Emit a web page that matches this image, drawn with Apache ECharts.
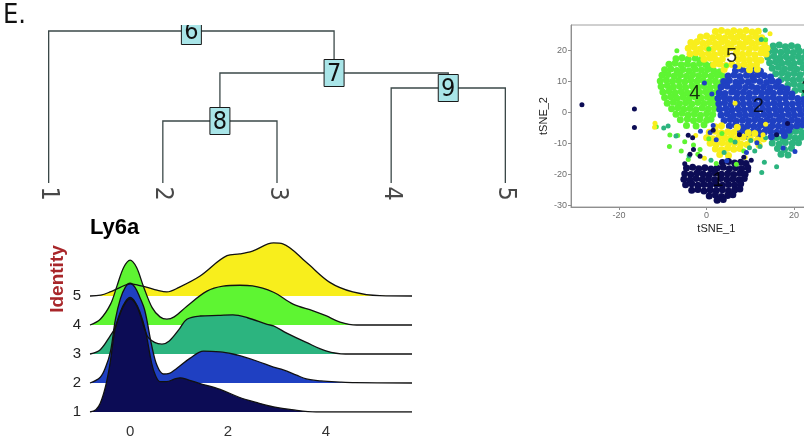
<!DOCTYPE html>
<html><head><meta charset="utf-8">
<script src="https://cdn.jsdelivr.net/npm/echarts@6/dist/echarts.min.js"></script>
<style>html,body{margin:0;padding:0;background:#fff}#c{width:804px;height:443px}</style>
</head><body><div id="c"></div>
<script>
const FONT = '"Liberation Sans", Arial, sans-serif';
const NARROW = '"Liberation Sans Narrow", "DejaVu Sans Condensed", "Liberation Sans", sans-serif';

// ---------- Dendrogram ----------
const leafNames = ['1', '2', '3', '4', '5'];
const leafPos = [1, 2, 3, 4, 5];
const nodeNames = ['6', '7', '8', '9'];
const nodeHeights = [1.52, 1.10, 0.62, 0.95];
const nodeChildren = [['1', '7'], ['8', '9'], ['2', '3'], ['4', '5']];

// ---------- tSNE ----------
const tsneTicksX = [-20, 0, 20];
const tsneTicksY = [-30, -20, -10, 0, 10, 20];
const tsneColors = ['#0c0c55', '#1f40c2', '#2cb47f', '#5ef532', '#f8ee1c'];
const tsne1 = [[3.6,-16.2],[5.0,-15.9],[6.4,-16.4],[7.8,-16.1],[9.0,-16.5],
[-4.6,-18.0],[-3.2,-17.7],[-1.8,-18.2],[-0.4,-17.9],[1.0,-18.3],[2.4,-18.0],[3.8,-17.7],[5.2,-18.2],[6.6,-17.9],[8.0,-18.2],[9.4,-17.8],
[-5.0,-19.8],[-3.6,-20.1],[-2.2,-19.6],[-0.8,-19.9],[0.6,-20.2],[2.0,-19.7],[3.4,-20.0],[4.8,-19.8],[6.2,-20.1],[7.6,-19.7],[8.8,-20.0],
[-5.2,-21.6],[-3.8,-21.9],[-2.4,-21.4],[-1.0,-21.7],[0.4,-21.5],[1.8,-21.8],[3.2,-21.4],[4.6,-21.7],[6.0,-21.5],[7.4,-21.8],[8.6,-21.4],
[-4.8,-23.4],[-3.4,-23.1],[-2.0,-23.6],[-0.6,-23.3],[0.8,-23.5],[2.2,-23.2],[3.6,-23.6],[5.0,-23.3],[6.4,-23.5],[7.8,-23.1],
[-3.4,-25.2],[-2.0,-24.9],[-0.6,-25.4],[0.8,-25.1],[2.2,-25.3],[3.6,-25.0],[5.0,-25.4],[6.4,-25.1],[7.6,-24.8],
[0.6,-27.0],[2.0,-26.7],[3.4,-27.2],[4.8,-26.9],[6.0,-26.6],[2.4,-28.4],[3.8,-28.2]];
const tsne1Sparse = [[-28.5,2.5],[-16.5,1.1],[-16.5,-4.9],[-4.2,-7.4],[-3.2,-8.2],[-3.8,-13.5],[-1.5,-14.2],[8.5,-14.5],[10.2,-15.5],[1.5,-5.8],[-3.0,-12.0],[7.5,-7.2],[16.0,-7.2],[18.5,-3.6],[-5.0,-16.6],[9.6,-18.8]];
const tsne2 = [[6.6,13.6],[8.1,13.9],[9.4,13.4],[10.9,13.7],[12.3,13.3],
[4.9,11.8],[6.3,12.1],[7.6,11.6],[9.1,12.0],[10.5,11.7],[11.8,12.2],[13.2,11.9],[14.6,11.5],
[3.9,10.0],[5.2,10.3],[6.7,9.8],[8.0,10.1],[9.5,9.9],[10.8,10.4],[12.2,10.0],[13.7,9.7],[15.0,10.2],[16.4,9.9],
[3.3,8.2],[4.7,8.5],[6.1,8.0],[7.4,8.3],[8.9,8.1],[10.3,8.4],[11.6,7.9],[13.0,8.2],[14.5,8.0],[15.9,8.4],[17.2,8.1],[18.4,7.6],
[2.9,6.4],[4.2,6.1],[5.7,6.6],[7.0,6.3],[8.4,6.5],[9.8,6.2],[11.2,6.6],[12.6,6.3],[14.0,6.5],[15.3,6.2],[16.8,6.6],[18.1,6.3],[19.5,6.0],
[2.6,4.6],[4.0,4.9],[5.3,4.4],[6.8,4.7],[8.2,4.5],[9.6,4.8],[11.0,4.4],[12.4,4.7],[13.8,4.5],[15.2,4.8],[16.6,4.4],[18.0,4.6],[19.4,4.9],[20.8,4.5],[22.2,4.2],[23.5,4.6],
[2.8,2.8],[4.1,3.1],[5.6,2.6],[7.0,2.9],[8.4,2.7],[9.8,3.0],[11.2,2.6],[12.6,2.9],[14.0,2.7],[15.4,3.0],[16.8,2.6],[18.2,2.9],[19.6,2.7],[21.0,3.0],[22.4,2.6],[23.8,2.9],
[3.0,1.0],[4.4,1.3],[5.8,0.8],[7.2,1.1],[8.6,0.9],[10.0,1.2],[11.4,0.8],[12.8,1.1],[14.2,0.9],[15.6,1.2],[17.0,0.8],[18.4,1.1],[19.8,0.9],[21.2,1.2],[22.6,0.8],[24.0,1.1],
[3.3,-0.8],[4.7,-0.5],[6.1,-1.0],[7.5,-0.7],[8.9,-0.9],[10.3,-0.6],[11.7,-1.0],[13.1,-0.7],[14.5,-0.9],[15.9,-0.6],[17.3,-1.0],[18.7,-0.7],[20.1,-0.9],[21.5,-0.6],[22.9,-1.0],[24.2,-0.7],
[4.0,-2.6],[5.4,-2.3],[6.8,-2.8],[8.2,-2.5],[9.6,-2.7],[11.0,-2.4],[12.4,-2.8],[13.8,-2.5],[15.2,-2.7],[16.6,-2.4],[18.0,-2.8],[19.4,-2.5],[20.8,-2.7],[22.2,-2.4],[23.6,-2.8],
[5.2,-4.4],[6.6,-4.1],[8.0,-4.6],[9.4,-4.3],[10.8,-4.5],[12.2,-4.2],[13.6,-4.6],[15.0,-4.3],[16.4,-4.5],[17.8,-4.2],[19.2,-4.6],[20.6,-4.3],[22.0,-4.0],
[7.6,-6.2],[9.0,-5.9],[10.4,-6.4],[11.8,-6.1],[13.2,-6.3],[14.6,-6.0],[16.0,-6.4],[17.4,-6.1],[18.8,-5.8],
[9.5,-7.8],[12.0,-7.6],[14.8,-7.9],[17.8,-7.5]];
const tsne2Sparse = [[1.5,-4.2],[0.8,-6.5],[17.5,-11.5],[20.2,-12.6],[6.5,14.9],[-1.4,-6.1],[4.6,-15.6],[9.1,-13.0],[11.5,-9.8],[2.2,-8.8],[-0.5,9.5],[1.2,6.0]];
const tsne3 = [[15.2,21.5],[16.6,21.8],[18.0,21.3],[19.4,21.6],[20.8,21.2],
[14.2,19.7],[15.6,20.0],[17.0,19.5],[18.4,19.8],[19.8,19.4],[21.2,19.9],[22.6,19.6],
[14.0,17.9],[15.4,18.2],[16.8,17.7],[18.2,18.0],[19.6,17.6],[21.0,18.1],[22.4,17.8],[23.8,18.0],
[14.4,16.1],[15.8,16.4],[17.2,15.9],[18.6,16.2],[20.0,15.8],[21.4,16.3],[22.8,16.0],[24.2,16.2],
[15.0,14.3],[16.4,14.6],[17.8,14.1],[19.2,14.4],[20.6,14.0],[22.0,14.5],[23.4,14.2],
[15.8,12.5],[17.2,12.8],[18.6,12.3],[20.0,12.6],[21.4,12.2],[22.8,12.7],[24.0,12.4],
[17.0,10.7],[18.4,11.0],[19.8,10.5],[21.2,10.8],[22.6,10.4],[23.9,10.9],
[18.6,8.9],[20.0,9.2],[21.4,8.7],[22.8,9.0],[24.1,8.8],
[20.2,7.1],[21.6,7.4],[23.0,6.9],[24.3,7.2],[22.4,5.5],[23.8,5.3],
[21.5,-4.6],[23.0,-4.3],
[17.5,-6.3],[19.0,-6.6],[20.4,-6.1],[21.8,-6.5],[23.2,-6.2],
[16.0,-8.1],[17.4,-8.4],[18.8,-7.9],[20.2,-8.2],[21.6,-8.0],[23.0,-8.3],
[15.0,-9.9],[16.6,-10.2],[18.0,-9.7],[19.6,-10.0],[21.0,-9.8],
[16.2,-11.7],[17.8,-12.0],[19.4,-11.6],[17.0,-13.5],[18.6,-13.8]];
const tsne3Sparse = [[12.5,23.6],[13.4,26.6],[11.0,-12.5],[13.2,-16.1],[9.8,-11.4],[-9.8,-5.0],[-8.8,-4.4],[6.5,-9.6],[1.0,-15.5],[-4.0,-14.1],[10.1,-9.1],[13.5,-8.2],[16.0,-17.6],[12.6,-19.4],[-7.0,-7.6],[4.0,-13.0],[12.2,-11.0]];
const tsne4 = [[-7.0,17.4],[-5.6,17.7],[-4.2,17.2],[-2.6,17.5],[-1.2,17.1],
[-8.6,15.6],[-7.2,15.9],[-5.8,15.4],[-4.4,15.7],[-3.0,15.3],[-1.6,15.8],[-0.2,15.5],[1.2,15.2],
[-9.6,13.8],[-8.2,14.1],[-6.8,13.6],[-5.4,13.9],[-4.0,13.5],[-2.6,14.0],[-1.2,13.7],[0.2,13.9],[1.6,13.5],[3.0,13.2],
[-10.2,12.0],[-8.8,12.3],[-7.4,11.8],[-6.0,12.1],[-4.6,11.7],[-3.2,12.2],[-1.8,11.9],[-0.4,12.1],[1.0,11.7],[2.4,12.0],[3.8,11.6],
[-10.6,10.2],[-9.2,10.5],[-7.8,10.0],[-6.4,10.3],[-5.0,9.9],[-3.6,10.4],[-2.2,10.1],[-0.8,10.3],[0.6,9.9],[2.0,10.2],[3.4,9.8],
[-10.4,8.4],[-9.0,8.7],[-7.6,8.2],[-6.2,8.5],[-4.8,8.1],[-3.4,8.6],[-2.0,8.3],[-0.6,8.5],[0.8,8.1],[2.2,8.4],
[-10.0,6.6],[-8.6,6.9],[-7.2,6.4],[-5.8,6.7],[-4.4,6.3],[-3.0,6.8],[-1.6,6.5],[-0.2,6.7],[1.2,6.3],[2.4,6.6],
[-9.6,4.8],[-8.2,5.1],[-6.8,4.6],[-5.4,4.9],[-4.0,4.5],[-2.6,5.0],[-1.2,4.7],[0.2,4.9],[1.4,4.5],
[-9.0,3.0],[-7.6,3.3],[-6.2,2.8],[-4.8,3.1],[-3.4,2.7],[-2.0,3.2],[-0.6,2.9],[0.8,3.1],[2.0,2.7],
[-8.0,1.2],[-6.6,1.5],[-5.2,1.0],[-3.8,1.3],[-2.4,0.9],[-1.0,1.4],[0.4,1.1],[1.8,1.3],
[-7.0,-0.6],[-5.6,-0.3],[-4.2,-0.8],[-2.8,-0.5],[-1.4,-0.9],[0.0,-0.4],[1.4,-0.7],
[-6.0,-2.4],[-4.4,-2.1],[-3.0,-2.6],[-1.6,-2.3],[0.0,-2.5],[1.0,-2.2],
[-4.6,-4.2],[-2.4,-4.4],[-0.6,-4.0]];
const tsne4Sparse = [[-6.6,-7.5],[-5.0,-9.5],[-3.0,-10.5],[-1.5,-12.0],[0.5,-8.5],[-8.5,-11.0],[2.2,-16.5],[-4.2,-15.2],[3.5,-6.8],[8.5,-12.5],[6.8,-16.8],[-6.8,20.0],[0.5,20.5],[4.5,15.2],[13.5,23.5],[-8.4,-7.3],[-2.0,-13.5],[5.5,-9.0],[-11.5,-4.6],[-5.8,-12.5]];
const tsne5 = [[2.0,26.2],[3.4,26.5],[4.8,26.0],[6.2,26.4],[7.6,26.1],[9.0,26.5],[10.4,26.0],[11.8,26.3],
[-1.4,24.4],[0.0,24.7],[1.4,24.2],[2.8,24.5],[4.2,24.1],[5.6,24.6],[7.0,24.3],[8.4,24.5],[9.8,24.1],[11.2,24.6],[12.6,24.2],
[-3.6,22.6],[-2.2,22.9],[-0.8,22.4],[0.6,22.7],[2.0,22.3],[3.4,22.8],[4.8,22.5],[6.2,22.7],[7.6,22.3],[9.0,22.8],[10.4,22.4],[11.8,22.7],[13.2,22.3],
[-4.2,20.8],[-2.8,21.1],[-1.4,20.6],[0.0,20.9],[1.4,20.5],[2.8,21.0],[4.2,20.7],[5.6,20.9],[7.0,20.5],[8.4,21.0],[9.8,20.6],[11.2,20.9],[12.6,20.5],[13.8,20.8],
[-3.8,19.0],[-2.4,19.3],[-1.0,18.8],[0.4,19.1],[1.8,18.7],[3.2,19.2],[4.6,18.9],[6.8,19.2],[8.2,18.8],[9.6,19.1],[11.0,18.7],[12.4,19.2],[13.6,18.9],
[-0.6,17.2],[0.8,17.5],[2.2,17.0],[3.6,17.3],[7.2,17.1],[8.4,17.4],[9.8,17.0],[11.2,17.3],[12.4,16.9],
[1.6,15.4],[3.0,15.7],[4.4,15.2],[5.8,15.5],[7.2,15.1],[8.6,15.6],[10.0,15.2],[11.4,15.5],
[4.0,13.9],[9.8,13.8],[11.6,14.0],
[2.0,-4.6],[3.4,-4.3],[7.0,-4.8],
[0.6,-6.4],[2.0,-6.1],[3.4,-6.6],[4.8,-6.3],[6.2,-6.5],[9.5,-6.6],[11.0,-6.8],
[0.0,-8.2],[1.4,-8.5],[2.8,-8.0],[4.2,-8.3],[5.6,-8.1],[7.0,-8.4],[8.4,-8.0],[10.0,-8.5],[11.6,-8.9],[13.0,-8.6],
[0.8,-10.0],[2.2,-10.3],[3.6,-9.8],[5.0,-10.1],[6.4,-9.9],[7.8,-10.2],[9.2,-10.4],[12.0,-10.6],
[2.0,-11.8],[3.4,-12.1],[4.8,-11.6],[6.2,-11.9],[7.6,-11.7],[3.0,-13.6],[5.0,-13.9]];
const tsne5Sparse = [[-11.8,-3.5],[-11.9,-4.8],[13.5,-3.8],[-0.5,-14.8],[6.5,3.0],[-2.5,-7.5],[8.8,-14.6],[14.5,25.5],[12.9,-7.2]];
const tsneLabelNames = ['1', '2', '3', '4', '5'];
const tsneLabelX = [2.6, 11.8, 22.9, -2.7, 5.7];
const tsneLabelY = [-22.0, 1.8, 7.8, 6.1, 18.0];

// ---------- Ridgeline (Ly6a) ----------
const ridgeIds = [1, 2, 3, 4, 5];
const ridgeColors = ['#0c0c55', '#1f40c2', '#2cb47f', '#5ef532', '#f8ee1c'];
const ridgeTicksX = [0, 2, 4];
const ridge1 = [[-0.82,0],[-0.7,0.08],[-0.61,0.3],[-0.5,0.9],[-0.41,1.68],[-0.31,2.83],[-0.2,3.45],[-0.1,3.8],[0,3.95],[0.1,3.8],[0.2,3.45],[0.31,2.83],[0.44,1.68],[0.52,1.25],[0.61,1.05],[0.75,1.05],[0.9,1.13],[1.02,1.18],[1.2,1.1],[1.43,0.98],[1.84,0.78],[2.24,0.5],[2.6,0.32],[2.93,0.18],[3.3,0.08],[3.8,0],[4.5,0],[5.76,0]];
const ridge2 = [[-0.82,0],[-0.61,0.2],[-0.5,0.55],[-0.4,1.1],[-0.3,2.2],[-0.2,2.9],[-0.1,3.3],[0,3.44],[0.1,3.3],[0.2,2.95],[0.3,2.5],[0.44,1.3],[0.55,0.6],[0.68,0.31],[0.8,0.33],[0.95,0.5],[1.22,0.85],[1.5,1.1],[1.84,1.07],[2.1,1.0],[2.24,0.94],[2.6,0.75],[2.93,0.55],[3.13,0.45],[3.4,0.27],[3.6,0.14],[3.9,0.07],[4.29,0.03],[4.6,0.01],[5.76,0]];
const ridge3 = [[-0.82,0],[-0.61,0.15],[-0.41,0.62],[-0.31,0.9],[-0.15,1.6],[0,1.9],[0.15,1.6],[0.35,0.62],[0.5,0.4],[0.65,0.34],[0.8,0.45],[1.0,0.85],[1.16,1.2],[1.43,1.31],[1.8,1.33],[2.1,1.35],[2.4,1.25],[2.8,1.02],[2.93,0.97],[3.2,0.72],[3.6,0.4],[4.0,0.11],[4.4,0],[5.76,0]];
const ridge4 = [[-0.82,0],[-0.61,0.2],[-0.4,0.72],[-0.27,1.34],[-0.13,1.99],[0,2.24],[0.13,1.99],[0.27,1.34],[0.45,0.6],[0.61,0.28],[0.75,0.2],[0.9,0.28],[1.16,0.65],[1.57,1.17],[1.9,1.34],[2.24,1.37],[2.5,1.35],[2.93,1.13],[3.33,0.72],[3.74,0.49],[4.0,0.32],[4.29,0.1],[4.63,0],[5.76,0]];
const ridge5 = [[-0.82,0],[-0.6,0.03],[-0.41,0.14],[-0.2,0.3],[0,0.42],[0.2,0.36],[0.35,0.3],[0.55,0.2],[0.75,0.14],[1.0,0.3],[1.43,0.69],[1.98,1.39],[2.24,1.45],[2.5,1.55],[2.93,1.83],[3.12,1.8],[3.6,1.16],[4.08,0.47],[4.55,0.14],[5.1,0.01],[5.76,0]];
const ridgeDensities = [ridge1, ridge2, ridge3, ridge4, ridge5];

// ---------- build ----------
const pos = {};
leafNames.forEach((n, i) => { pos[n] = [leafPos[i], 0]; });
function place(name) {
  if (pos[name]) return pos[name];
  const i = nodeNames.indexOf(name);
  const a = place(nodeChildren[i][0]), b = place(nodeChildren[i][1]);
  pos[name] = [(a[0] + b[0]) / 2, nodeHeights[i]];
  return pos[name];
}
nodeNames.forEach(place);
const branchLines = nodeNames.map((n, i) => {
  const a = pos[nodeChildren[i][0]], b = pos[nodeChildren[i][1]], h = nodeHeights[i];
  return { coords: [[a[0], a[1]], [a[0], h], [b[0], h], [b[0], b[1]]] };
});

const series = [];
series.push({
  type: 'lines', coordinateSystem: 'cartesian2d', xAxisIndex: 0, yAxisIndex: 0,
  polyline: true, silent: true, data: branchLines,
  lineStyle: { color: '#3b4848', width: 1.3, opacity: 1 }
});
series.push({
  type: 'custom', coordinateSystem: 'cartesian2d', xAxisIndex: 0, yAxisIndex: 0, clip: true, silent: true,
  data: nodeNames.map(n => [pos[n][0], pos[n][1]]),
  encode: { x: 0, y: 1 },
  renderItem: function (params, api) {
    const c = api.coord([api.value(0), api.value(1)]);
    return { type: 'group', children: [
      { type: 'rect', shape: { x: c[0] - 10, y: c[1] - 13.5, width: 20, height: 27 },
        style: { fill: '#a9e5e8', stroke: '#1a1a1a', lineWidth: 1 } },
      { type: 'text', x: c[0], y: c[1] + 1,
        style: { text: nodeNames[params.dataIndex], fontSize: 25, fontFamily: NARROW, fill: '#111', align: 'center', verticalAlign: 'middle' } }
    ]};
  }
});
series.push({
  type: 'scatter', xAxisIndex: 0, yAxisIndex: 0, clip: false, silent: true,
  data: leafPos.map(x => [x, 0]), symbolSize: 1, itemStyle: { color: 'rgba(0,0,0,0)' },
  label: { show: true, position: 'bottom', distance: 3, rotate: -90, align: 'left', verticalAlign: 'middle',
    fontSize: 25, fontFamily: NARROW, color: '#1a1a1a', formatter: p => leafNames[p.dataIndex] }
});

const tsneSets = [tsne1, tsne2, tsne3, tsne4, tsne5];
const tsneSparseSets = [tsne1Sparse, tsne2Sparse, tsne3Sparse, tsne4Sparse, tsne5Sparse];
[3, 2, 1, 4, 0].forEach(k => {
  series.push({
    type: 'scatter', xAxisIndex: 1, yAxisIndex: 1, silent: true, data: tsneSets[k],
    symbolSize: 7, itemStyle: { color: tsneColors[k], borderWidth: 0, opacity: 1 }
  });
});
[3, 2, 1, 4, 0].forEach(k => {
  series.push({
    type: 'scatter', xAxisIndex: 1, yAxisIndex: 1, silent: true, data: tsneSparseSets[k],
    symbolSize: 5, itemStyle: { color: tsneColors[k], borderWidth: 0, opacity: 1 }
  });
});
series.push({
  type: 'scatter', xAxisIndex: 1, yAxisIndex: 1, silent: true, clip: false,
  data: tsneLabelX.map((x, i) => [x, tsneLabelY[i]]), symbolSize: 1, itemStyle: { color: 'rgba(0,0,0,0)' },
  label: { show: true, position: 'inside', fontSize: 20, fontFamily: FONT, color: '#000', formatter: p => tsneLabelNames[p.dataIndex] }
});

[4, 3, 2, 1, 0].forEach(k => {
  const base = ridgeIds[k];
  series.push({
    type: 'line', xAxisIndex: 2, yAxisIndex: 2, smooth: 0.35, showSymbol: false, symbol: 'none', silent: true,
    data: ridgeDensities[k].map(p => [p[0], base + p[1]]),
    lineStyle: { color: '#111', width: 1.3 },
    areaStyle: { color: ridgeColors[k], opacity: 1, origin: base }
  });
});

const hidden = { show: false };
const option = {
  animation: false,
  backgroundColor: '#fff',
  textStyle: { fontFamily: FONT },
  grid: [
    { left: 3, top: 25, width: 548, height: 158, outerBoundsMode: 'none' },
    { left: 571, top: 25, width: 310.6, height: 182, show: true, borderColor: '#a0a0a0', borderWidth: 1, backgroundColor: 'transparent', outerBoundsMode: 'none' },
    { left: 90, top: 238, width: 322, height: 174, outerBoundsMode: 'none' }
  ],
  xAxis: [
    { gridIndex: 0, type: 'value', min: 0.6, max: 5.4, show: false },
    { gridIndex: 1, type: 'value', min: -31, max: 40,
      axisLine: { show: true, onZero: false, lineStyle: { color: '#8f8f8f', width: 1 } },
      axisTick: { show: true, customValues: tsneTicksX, length: 3, lineStyle: { color: '#8f8f8f' } },
      axisLabel: { customValues: tsneTicksX, color: '#6e6e6e', fontSize: 9, margin: 4 },
      splitLine: hidden,
      name: 'tSNE_1', nameLocation: 'middle', nameGap: 16,
      nameTextStyle: { fontSize: 11, color: '#222', padding: [0, 20, 0, 0] } },
    { gridIndex: 2, type: 'value', min: -0.82, max: 5.76,
      axisLine: hidden, axisTick: hidden, splitLine: hidden,
      axisLabel: { customValues: ridgeTicksX, color: '#333', fontSize: 15, margin: 12 } }
  ],
  yAxis: [
    { gridIndex: 0, type: 'value', min: 0, max: 1.58, show: false },
    { gridIndex: 1, type: 'value', min: -30.6, max: 28.3,
      axisLine: { show: true, onZero: false, lineStyle: { color: '#8f8f8f', width: 1 } },
      axisTick: { show: true, customValues: tsneTicksY, length: 3, lineStyle: { color: '#8f8f8f' } },
      axisLabel: { customValues: tsneTicksY, color: '#6e6e6e', fontSize: 9, margin: 4 },
      splitLine: hidden,
      name: 'tSNE_2', nameLocation: 'middle', nameGap: 22, nameRotate: 90,
      nameTextStyle: { fontSize: 11, color: '#222' } },
    { gridIndex: 2, type: 'value', min: 1, max: 7,
      axisLine: hidden, axisTick: hidden, splitLine: hidden,
      axisLabel: { customValues: ridgeIds, color: '#222', fontSize: 15, margin: 9 } }
  ],
  graphic: [
    { type: 'text', left: 3, top: 2, style: { text: 'E.', fontSize: 27, fontFamily: NARROW, fill: '#111' } },
    { type: 'text', x: 90, y: 228, style: { text: 'Ly6a', fontSize: 22, fontWeight: 'bold', fontFamily: FONT, fill: '#000', verticalAlign: 'middle' } },
    { type: 'text', x: 58, y: 279, rotation: Math.PI / 2, style: { text: 'Identity', fontSize: 19, fontWeight: 'bold', fontFamily: FONT, fill: '#a8262a', align: 'center', verticalAlign: 'middle' } }
  ],
  series: series
};
const chart = echarts.init(document.getElementById('c'), null, { renderer: 'canvas' });
chart.setOption(option);
</script></body></html>
